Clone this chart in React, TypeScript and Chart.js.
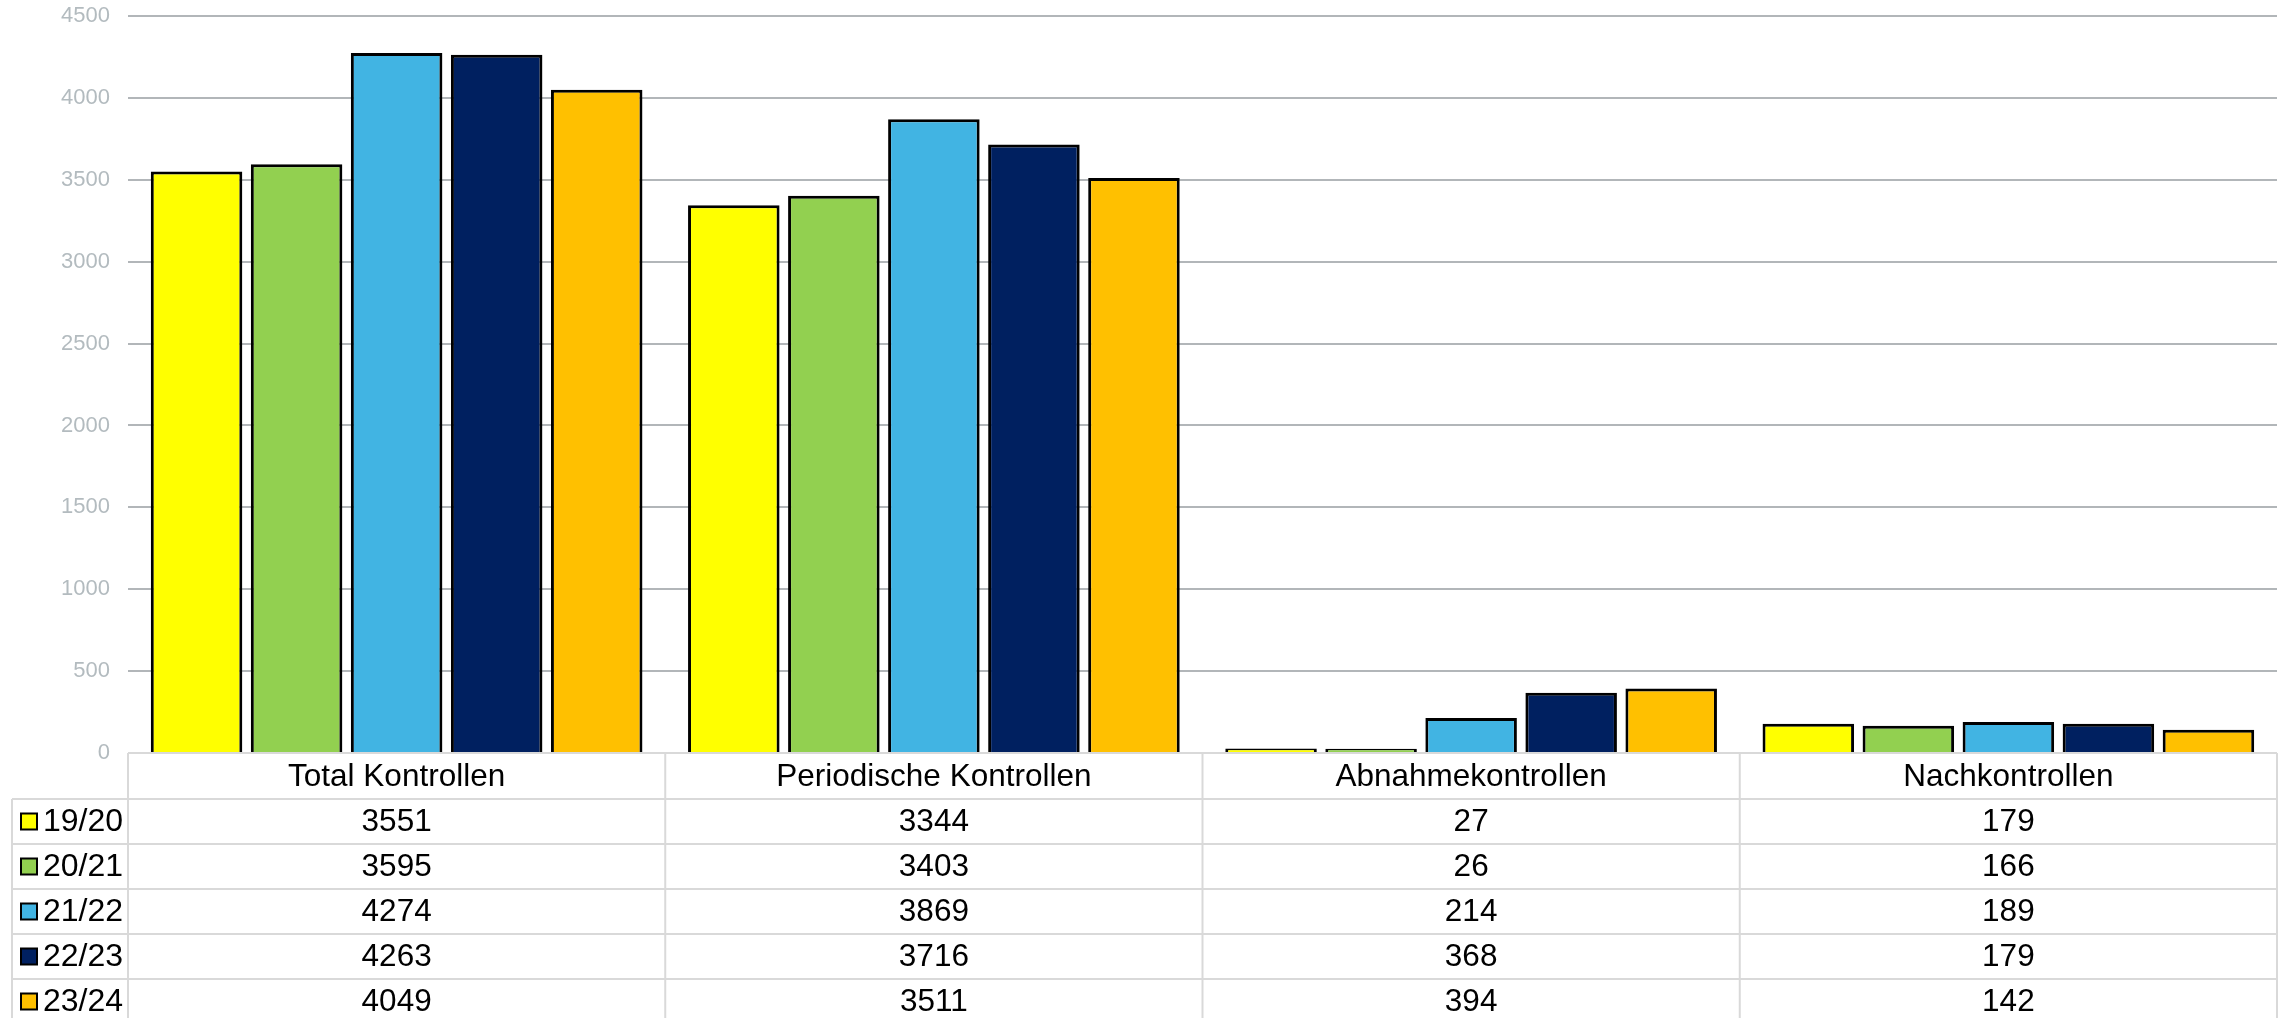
import React, { useEffect, useRef } from "react";
import { Chart, registerables } from "chart.js";

Chart.register(...registerables);

const categories = ["Total Kontrollen", "Periodische Kontrollen", "Abnahmekontrollen", "Nachkontrollen"];
const seriesLabels = ["19/20", "20/21", "21/22", "22/23", "23/24"];
const values1920 = [3551, 3344, 27, 179];
const values2021 = [3595, 3403, 26, 166];
const values2122 = [4274, 3869, 214, 189];
const values2223 = [4263, 3716, 368, 179];
const values2324 = [4049, 3511, 394, 142];
const seriesValues = [values1920, values2021, values2122, values2223, values2324];
const seriesColors = ["#ffff00", "#92d050", "#41b4e3", "#002060", "#ffc000"];
const yMax = 4500;
const yStep = 500;

const FONT = '"Liberation Sans", Arial, Helvetica, sans-serif';

const tablePlugin = {
  id: "dataTable",
  afterDraw(chart: any) {
    const ctx = chart.ctx as CanvasRenderingContext2D;
    const area = chart.chartArea;
    const xs = chart.scales.x;
    const n = categories.length;
    const colW = (area.right - area.left) / n;
    const top = area.bottom;
    const headerH = 46;
    const rowH = 45;
    const legendLeft = 12;
    const bottom = chart.height;

    ctx.save();
    ctx.strokeStyle = "#d9d9d9";
    ctx.lineWidth = 2;
    const line = (x1: number, y1: number, x2: number, y2: number) => {
      ctx.beginPath();
      ctx.moveTo(x1, y1);
      ctx.lineTo(x2, y2);
      ctx.stroke();
    };
    line(area.left, top, area.right, top);
    for (let i = 0; i < seriesLabels.length; i++) {
      const y = top + headerH + i * rowH;
      line(legendLeft, y, area.right, y);
    }
    for (let j = 0; j <= n; j++) {
      const bx = j < n ? xs.getPixelForValue(j) - colW / 2 : xs.getPixelForValue(n - 1) + colW / 2;
      line(bx, top, bx, bottom);
    }
    line(legendLeft, top + headerH, legendLeft, bottom);

    ctx.fillStyle = "#000000";
    ctx.font = `31.5px ${FONT}`;
    ctx.textBaseline = "middle";
    ctx.textAlign = "center";
    for (let j = 0; j < n; j++) {
      const cx = xs.getPixelForValue(j);
      ctx.fillText(categories[j], cx, top + headerH / 2 + 1);
      for (let i = 0; i < seriesLabels.length; i++) {
        const cy = top + headerH + i * rowH + rowH / 2 + 1;
        ctx.fillText(String(seriesValues[i][j]), cx, cy);
      }
    }
    ctx.textAlign = "left";
    ctx.font = `32px ${FONT}`;
    for (let i = 0; i < seriesLabels.length; i++) {
      const cy = top + headerH + i * rowH + rowH / 2;
      ctx.fillStyle = seriesColors[i];
      ctx.fillRect(21, cy - 8, 16, 16);
      ctx.strokeStyle = "#000000";
      ctx.lineWidth = 2;
      ctx.strokeRect(21, cy - 8, 16, 16);
      ctx.fillStyle = "#000000";
      ctx.fillText(seriesLabels[i], 43, cy + 1);
    }
    ctx.restore();
  },
};

export default function App() {
  const canvasRef = useRef<HTMLCanvasElement | null>(null);

  useEffect(() => {
    if (!canvasRef.current) return;
    const chart = new Chart(canvasRef.current, {
      type: "bar",
      data: {
        labels: categories,
        datasets: seriesLabels.map((label, i) => ({
          label,
          data: seriesValues[i],
          backgroundColor: seriesColors[i],
          borderColor: "#000000",
          borderWidth: 3,
          categoryPercentage: 0.931,
          barPercentage: 0.915,
        })),
      },
      options: {
        animation: false,
        responsive: false,
        maintainAspectRatio: false,
        layout: { padding: { left: 0, right: 8, top: 16, bottom: 265 } },
        plugins: {
          legend: { display: false },
          tooltip: { enabled: false },
        },
        scales: {
          x: {
            display: false,
            grid: { display: false },
          },
          y: {
            min: 0,
            max: yMax,
            afterFit: (scale: any) => {
              scale.width = 128;
              scale.paddingTop = 0;
              scale.paddingBottom = 0;
            },
            border: { display: false },
            grid: {
              drawTicks: false,
              lineWidth: 2,
              color: (c: any) => (c.tick && c.tick.value === 0 ? "#d9d9d9" : "#b2b6b9"),
            },
            ticks: {
              stepSize: yStep,
              padding: 18,
              color: "#b3bbbf",
              font: { family: FONT, size: 22 },
              callback: (v: any) => String(v),
            },
          },
        },
      },
      plugins: [tablePlugin],
    });
    return () => chart.destroy();
  }, []);

  return (
    <div style={{ position: "absolute", left: 0, top: 0, width: 2285, height: 1018, background: "#ffffff" }}>
      <canvas ref={canvasRef} width={2285} height={1018} style={{ width: 2285, height: 1018, display: "block" }} />
    </div>
  );
}
